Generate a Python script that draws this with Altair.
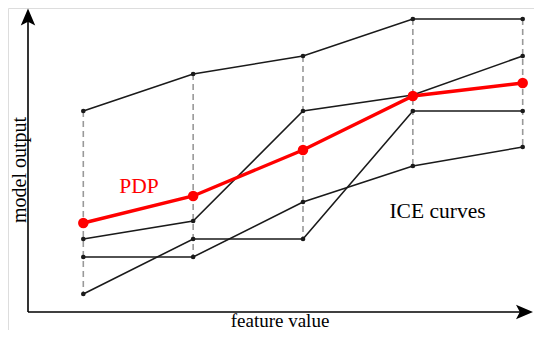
import altair as alt
import pandas as pd

# feature values (x positions)
feature = [1, 2, 3, 4, 5]
# ICE curves (model output for each instance)
ice_a = [20.1, 23.8, 25.6, 29.3, 29.3]
ice_b = [7.3, 9.1, 20.1, 21.7, 25.6]
ice_c = [5.5, 5.5, 11.0, 14.6, 16.5]
ice_d = [1.8, 7.3, 7.3, 20.1, 20.1]
# partial dependence curve
pdp = [8.9, 11.6, 16.2, 21.6, 22.9]

ice_rows = []
for name, vals in [("a", ice_a), ("b", ice_b), ("c", ice_c), ("d", ice_d)]:
    for xv, yv in zip(feature, vals):
        ice_rows.append({"x": xv, "value": yv, "curve": name})
ice_df = pd.DataFrame(ice_rows)
pdp_df = pd.DataFrame({"x": feature, "value": pdp})

W, H = 526, 322
xscale = alt.Scale(domain=[0.3145, 5.1029], nice=False, zero=False)
yscale = alt.Scale(domain=[-1.8, 30.4], nice=False, zero=False)
X = alt.X("x:Q", scale=xscale, axis=None)
Y = alt.Y("value:Q", scale=yscale, axis=None)

base_ice = alt.Chart(ice_df)

dashes = base_ice.mark_rule(color="#999999", strokeWidth=1.6, strokeDash=[6, 4]).encode(
    x=X,
    y=alt.Y("max(value):Q", scale=yscale, axis=None),
    y2=alt.Y2("min(value):Q"),
)

ice_lines = base_ice.mark_line(color="#1a1a1a", strokeWidth=1.6).encode(
    x=X, y=Y, detail="curve:N", order="x:Q"
)
ice_pts = base_ice.mark_circle(color="#1a1a1a", size=22, opacity=1).encode(x=X, y=Y)

pdp_line = alt.Chart(pdp_df).mark_line(color="#ff0000", strokeWidth=3.4).encode(x=X, y=Y)
pdp_pts = alt.Chart(pdp_df).mark_circle(color="#ff0000", size=110, opacity=1).encode(x=X, y=Y)

axis_df = pd.DataFrame({"k": [0]})
yaxis = alt.Chart(axis_df).mark_rule(color="black", strokeWidth=1.6).encode(
    x=alt.value(20), y=alt.value(6), y2=alt.value(304)
)
xaxis = alt.Chart(axis_df).mark_rule(color="black", strokeWidth=1.6).encode(
    x=alt.value(20), x2=alt.value(516), y=alt.value(304)
)
arrow_up = alt.Chart(axis_df).mark_point(
    shape="M0,-1 L-0.85,1 L0,0.55 L0.85,1 Z", filled=True, color="black", size=289, opacity=1
).encode(x=alt.value(20), y=alt.value(9))
arrow_right = alt.Chart(axis_df).mark_point(
    shape="M1,0 L-1,-0.85 L-0.55,0 L-1,0.85 Z", filled=True, color="black", size=289, opacity=1
).encode(x=alt.value(516.5), y=alt.value(304))

font = "Liberation Serif"
t_pdp = alt.Chart(axis_df).mark_text(
    text="PDP", font=font, fontSize=21.5, color="#ff0000", align="center", baseline="alphabetic"
).encode(x=alt.value(131), y=alt.value(185))
t_ice = alt.Chart(axis_df).mark_text(
    text="ICE curves", font=font, fontSize=21.5, color="black", align="center", baseline="alphabetic"
).encode(x=alt.value(429.5), y=alt.value(210))
t_x = alt.Chart(axis_df).mark_text(
    text="feature value", font=font, fontSize=19, color="black", align="center", baseline="alphabetic"
).encode(x=alt.value(272), y=alt.value(318.5))
t_y = alt.Chart(axis_df).mark_text(
    text="model output", font=font, fontSize=20, color="black", align="center",
    baseline="alphabetic", angle=270
).encode(x=alt.value(17.5), y=alt.value(162))

chart = alt.layer(
    dashes, ice_lines, ice_pts, pdp_line, pdp_pts,
    yaxis, xaxis, arrow_up, arrow_right, t_pdp, t_ice, t_x, t_y
).properties(
    width=W, height=H, padding=0, autosize=alt.AutoSizeParams(type="none")
).configure_view(stroke=None).configure(background="white")

chart.save("out.html", embed_options={"renderer": "svg", "actions": False})
